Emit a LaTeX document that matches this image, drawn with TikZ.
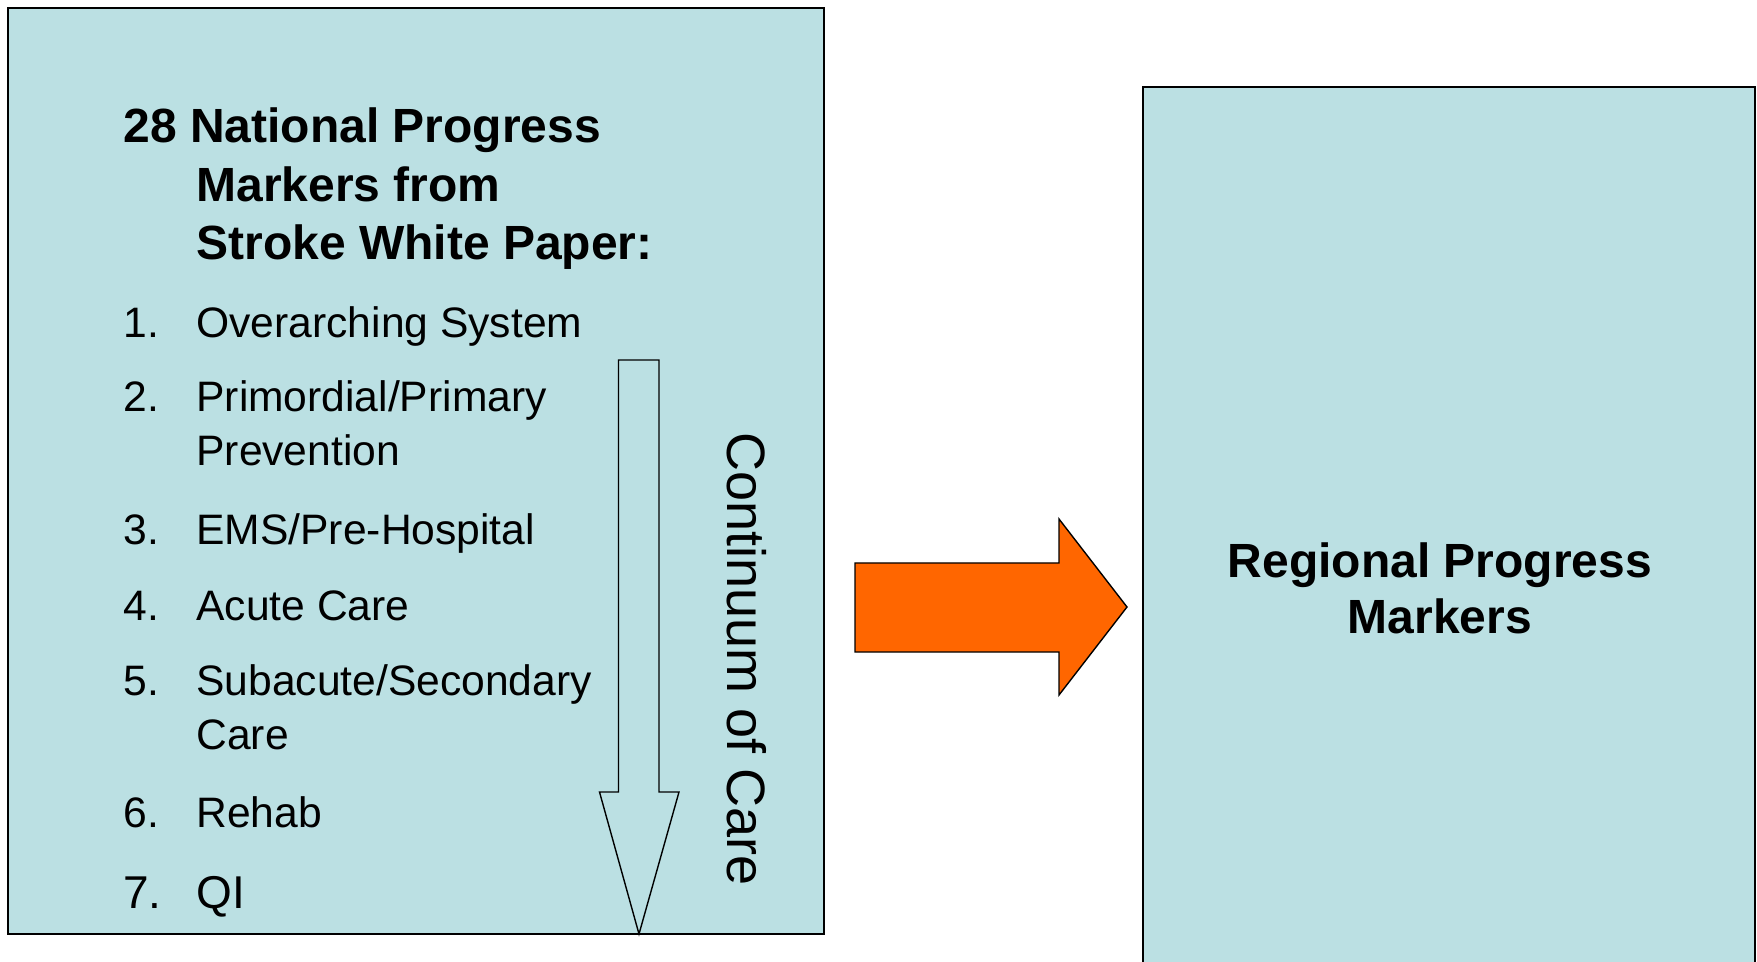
\documentclass[tikz,border=0pt]{standalone}
\usepackage{fontspec}
\setmainfont{Liberation Sans}
\definecolor{panel}{RGB}{187,224,227}
\definecolor{flow}{RGB}{255,102,0}
\begin{document}
\begin{tikzpicture}[x=0.5pt,y=-0.5pt,
  panelbox/.style={fill=panel,draw=black,line width=0.8pt},
  item/.style={anchor=base west,inner sep=0pt,font=\fontsize{21.3}{25}\selectfont},
  bigitem/.style={anchor=base west,inner sep=0pt,font=\fontsize{23}{27}\selectfont},
  ttl/.style={anchor=base west,inner sep=0pt,font=\fontsize{24}{29}\selectfont\bfseries},
  rtl/.style={anchor=base,inner sep=0pt,font=\fontsize{24}{29}\selectfont\bfseries},
  flowline/.style={draw=black,line width=0.7pt,line join=miter}]
\useasboundingbox (0,0) rectangle (1757,962);
\clip (0,0) rectangle (1757,962);
% left panel
\path[panelbox] (8,8) rectangle (824,934);
% right panel
\path[panelbox] (1143,87) rectangle (1755,980);
% title
\node[ttl] (t1) at (123,143) {28 National Progress};
\node[ttl] (t2) at (196,202) {Markers from};
\node[ttl] (t3) at (196,260) {Stroke White Paper:};
% list
\node[item] (n1) at (123,338) {1.};
\node[item] (i1) at (196,338) {Overarching System};
\node[item] (n2) at (123,412) {2.};
\node[item] (i2) at (196,412) {Primordial/Primary};
\node[item] (i2b) at (196,466) {Prevention};
\node[item] (n3) at (123,545) {3.};
\node[item] (i3) at (196,545) {EMS/Pre-Hospital};
\node[item] (n4) at (123,620) {4.};
\node[item] (i4) at (196,620) {Acute Care};
\node[item] (n5) at (123,695) {5.};
\node[item] (i5) at (196,695) {Subacute/Secondary};
\node[item] (i5b) at (196,749) {Care};
\node[item] (n6) at (123,827) {6.};
\node[item] (i6) at (196,827) {Rehab};
\node[bigitem] (n7) at (123,908) {7.};
\node[bigitem] (i7) at (196,908) {QI};
% continuum arrow (outlined)
\coordinate (ctop) at (639,360);
\coordinate (ctip) at (639,934);
\path[flowline,fill=panel] (618.5,360) -- (659,360) -- (659,792) -- (679,792) -- (ctip) -- (599.5,792) -- (618.5,792) -- cycle;
\node[rotate=-90,anchor=base west,inner sep=0pt,font=\fontsize{27}{30}\selectfont] (cont) at (727,432) {Continuum of Care};
% orange block arrow
\path[flowline,fill=flow] (855,563) -- (1059,563) -- (1059,519) -- (1127,607) -- (1059,695) -- (1059,652) -- (855,652) -- cycle;
% right panel text
\node[rtl] (r1) at (1440,577) {Regional Progress};
\node[rtl] (r2) at (1440,633) {Markers};
\end{tikzpicture}
\end{document}
